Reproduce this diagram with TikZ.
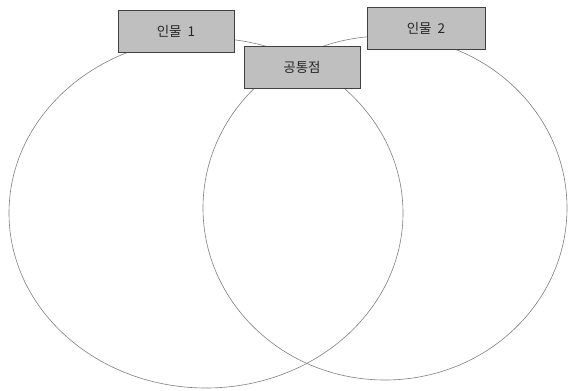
\documentclass[tikz,border=0pt]{standalone}
\usepackage{fontspec}
\newfontfamily\krfont{Noto Sans CJK KR}[Scale=1]
\begin{document}
\begin{tikzpicture}[x=1pt,y=-1pt,
  venn/.style={draw=black!50, line width=0.6pt},
  lbl/.style={draw=black!75, fill=black!25, line width=0.6pt, minimum width=116pt, minimum height=42pt, inner sep=0pt, font=\krfont\fontsize{13.5}{15}\selectfont, text=black!85}]
\useasboundingbox (0,0) rectangle (568,391);
\fill[white] (0,0) rectangle (568,391);
\draw[venn] (206,213) ellipse [x radius=197, y radius=175];
\draw[venn] (385,208) ellipse [x radius=182, y radius=172];
\node[lbl] (p1) at (176,31.5) {인물\ \ 1};
\node[lbl] (c) at (302,67.5) {공통점};
\node[lbl, minimum width=118pt] (p2) at (426,28) {인물\ \ 2};
\end{tikzpicture}
\end{document}
